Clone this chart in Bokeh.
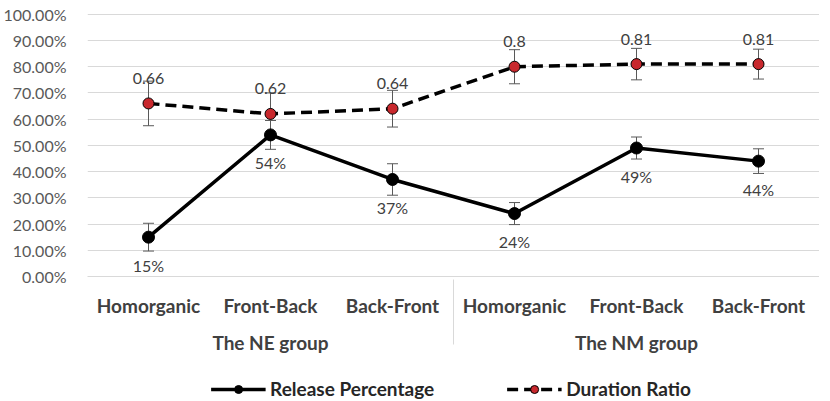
from bokeh.plotting import figure
from bokeh.layouts import column
from bokeh.core.properties import value
from bokeh.models import (FactorRange, Range1d, ColumnDataSource, Whisker, TeeHead, LabelSet,
                          Legend, LegendItem, NumeralTickFormatter, FixedTicker)
from bokeh.embed import file_html
from bokeh.resources import INLINE

groups = ["The NE group", "The NE group", "The NE group",
          "The NM group", "The NM group", "The NM group"]
conditions = ["Homorganic", "Front-Back", "Back-Front",
              "Homorganic", "Front-Back", "Back-Front"]
release = [0.15, 0.54, 0.37, 0.24, 0.49, 0.44]
release_err = [0.053, 0.055, 0.06, 0.042, 0.042, 0.047]
release_labels = ["15%", "54%", "37%", "24%", "49%", "44%"]
duration = [0.66, 0.62, 0.64, 0.80, 0.81, 0.81]
duration_err = [0.085, 0.08, 0.07, 0.065, 0.06, 0.057]
duration_labels = ["0.66", "0.62", "0.64", "0.8", "0.81", "0.81"]
y_ticks = [0.0, 0.1, 0.2, 0.3, 0.4, 0.5, 0.6, 0.7, 0.8, 0.9, 1.0]
series_names = ["Release Percentage", "Duration Ratio"]

FONT = "Lato"
RED = "#C8282D"
factors = list(zip(groups, conditions))

src = ColumnDataSource(dict(
    x=factors,
    release=release,
    r_up=[v + e for v, e in zip(release, release_err)],
    r_lo=[v - e for v, e in zip(release, release_err)],
    r_lab=release_labels,
    duration=duration,
    d_up=[v + e for v, e in zip(duration, duration_err)],
    d_lo=[v - e for v, e in zip(duration, duration_err)],
    d_lab=duration_labels,
))

p = figure(x_range=FactorRange(*factors, group_padding=0, factor_padding=0, range_padding=0),
           y_range=Range1d(0, 1.003),
           frame_width=732, frame_height=263, output_backend="svg", toolbar_location=None,
           min_border_left=82, min_border_top=13, min_border_right=0, min_border_bottom=0)
p.outline_line_color = None

# y axis
p.yaxis.ticker = FixedTicker(ticks=y_ticks)
p.yaxis.formatter = NumeralTickFormatter(format="0.00%")
p.yaxis.axis_line_color = None
p.yaxis.major_tick_line_color = None
p.yaxis.minor_tick_line_color = None
p.yaxis.major_label_text_font = FONT
p.yaxis.major_label_text_font_size = "16px"
p.yaxis.major_label_text_color = "#595959"
p.yaxis.major_label_standoff = 15
p.ygrid.grid_line_color = "#d9d9d9"
p.ygrid.grid_line_width = 1
p.xgrid.grid_line_color = None

# x axis
xa = p.xaxis[0]
xa.axis_line_color = "#d9d9d9"
xa.major_tick_line_color = None
xa.major_label_text_font = FONT
xa.major_label_text_font_style = "bold"
xa.major_label_text_font_size = "19px"
xa.major_label_text_color = "#404040"
xa.major_label_standoff = 11
xa.group_text_font = FONT
xa.group_text_font_style = "bold"
xa.group_text_font_size = "19px"
xa.group_text_color = "#404040"
xa.separator_line_color = "#d9d9d9"
xa.separator_line_width = 1

# error bars
for up, lo in (("r_up", "r_lo"), ("d_up", "d_lo")):
    w = Whisker(base="x", upper=up, lower=lo, source=src, level="underlay",
                line_color="#595959", line_width=1,
                upper_head=TeeHead(size=11, line_color="#595959", line_width=1),
                lower_head=TeeHead(size=11, line_color="#595959", line_width=1))
    p.add_layout(w)

p.line(x="x", y="release", source=src, line_color="black", line_width=3.5)
p.scatter(x="x", y="release", source=src, size=12, fill_color="black", line_color="black")
p.line(x="x", y="duration", source=src, line_color="black", line_width=3.5, line_dash="11 6")
p.scatter(x="x", y="duration", source=src, size=11, fill_color=RED,
          line_color="black", line_width=1)

lab_kw = dict(text_font=value(FONT), text_font_size=value("16px"), text_color="#404040",
              text_align="center", text_baseline="middle")
p.add_layout(LabelSet(x="x", y="release", text="r_lab", source=src, y_offset=-28, **lab_kw))
p.add_layout(LabelSet(x="x", y="duration", text="d_lab", source=src, y_offset=25, **lab_kw))

# legend strip (separate figure so the chart frame keeps its size)
lg = figure(width=814, height=44, x_range=Range1d(0, 1), y_range=Range1d(0, 1),
            output_backend="svg", toolbar_location=None,
            min_border_left=60, min_border_right=0, min_border_top=0, min_border_bottom=0)
lg.axis.visible = False
lg.grid.visible = False
lg.outline_line_color = None
key_src = ColumnDataSource(dict(x=[-1.0], y=[-1.0]))  # off-screen legend keys
k1l = lg.line(x="x", y="y", source=key_src, line_color="black", line_width=3.5)
k1s = lg.scatter(x="x", y="y", source=key_src, size=12, fill_color="black", line_color="black")
k2l = lg.line(x="x", y="y", source=key_src, line_color="black", line_width=3.5, line_dash="11 6")
k2s = lg.scatter(x="x", y="y", source=key_src, size=11, fill_color=RED,
                 line_color="black", line_width=1)
legend = Legend(items=[LegendItem(label=series_names[0], renderers=[k1l, k1s]),
                       LegendItem(label=series_names[1], renderers=[k2l, k2s])],
                orientation="horizontal", location="bottom_center",
                border_line_color=None, background_fill_alpha=0,
                label_text_font=FONT, label_text_font_style="bold",
                label_text_font_size="19px", label_text_color="#262626",
                glyph_width=55, spacing=72, label_standoff=5, margin=0, padding=3)
lg.add_layout(legend)

open("out.html", "w").write(file_html(column(p, lg, spacing=0), INLINE))
